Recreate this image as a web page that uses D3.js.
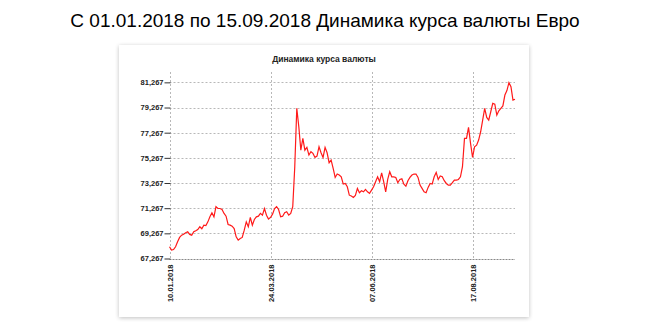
<!DOCTYPE html>
<html><head><meta charset="utf-8">
<script src="https://cdn.jsdelivr.net/npm/d3@7"></script>
<style>body{margin:0;background:#fff;} svg{display:block;}</style>
</head><body>
<svg id="c" width="650" height="325"></svg>
<script>
const pageTitle = "С 01.01.2018 по 15.09.2018 Динамика курса валюты Евро";
const chartTitle = "Динамика курса валюты";
const xTickIndex = [0, 50, 100, 150];
const xTickLabels = ["10.01.2018", "24.03.2018", "07.06.2018", "17.08.2018"];
const yTicks = [67.267, 69.267, 71.267, 73.267, 75.267, 77.267, 79.267, 81.267];
const rates = [
68.20,67.93,67.98,68.20,68.59,68.94,69.12,69.20,69.31,69.39,
69.18,69.12,69.39,69.47,69.57,69.79,69.63,69.92,69.89,70.18,
70.58,70.90,70.58,71.38,71.24,71.24,71.16,70.85,70.63,69.97,
69.92,69.84,69.65,68.99,68.73,68.86,68.94,69.52,70.18,69.79,
70.53,69.92,70.37,70.58,70.63,70.85,70.71,71.24,70.71,70.40,
70.53,70.79,71.24,71.38,71.16,70.58,70.63,70.90,70.98,70.71,
70.85,71.38,74.56,79.20,77.74,75.88,76.81,75.88,76.10,75.49,
75.75,75.62,75.30,75.41,76.15,75.67,75.30,76.10,75.67,74.88,
75.09,74.43,73.71,73.98,73.90,73.76,73.18,73.23,72.97,72.30,
72.23,72.12,72.28,72.84,72.49,72.65,72.57,72.76,72.57,72.44,
72.70,72.97,73.37,73.76,73.37,74.08,73.37,72.57,73.55,74.16,
73.76,73.76,73.71,73.29,73.55,73.60,73.18,73.02,73.45,73.71,
73.90,73.98,73.98,73.71,73.10,72.84,72.57,72.49,72.92,73.23,
73.18,73.76,74.11,73.55,73.82,73.76,73.45,73.23,73.10,73.10,
73.29,73.50,73.50,73.55,73.76,74.56,76.81,76.81,77.69,76.42,
75.30,76.15,76.28,76.68,77.34,78.27,79.20,78.48,78.27,78.93,
79.60,79.54,78.67,79.01,79.20,79.39,80.26,80.61,81.24,80.92,
79.86,79.92
];

const svg = d3.select("#c");
const defs = svg.append("defs");
const f = defs.append("filter").attr("id","sh").attr("x","-5%").attr("y","-5%").attr("width","110%").attr("height","110%");
f.append("feGaussianBlur").attr("in","SourceAlpha").attr("stdDeviation",2);
f.append("feOffset").attr("dx",0).attr("dy",1).attr("result","b");
f.append("feComponentTransfer").append("feFuncA").attr("type","linear").attr("slope",0.25);
const fm = f.append("feMerge"); fm.append("feMergeNode"); fm.append("feMergeNode").attr("in","SourceGraphic");

svg.append("text").attr("x",325).attr("y",27).attr("text-anchor","middle")
  .style("font-family","Liberation Sans, Arial, sans-serif").style("font-size","19px").attr("fill","#000")
  .text(pageTitle);

svg.append("rect").attr("x",119).attr("y",45).attr("width",410).attr("height",272)
  .attr("fill","#fff").attr("filter","url(#sh)");

svg.append("text").attr("x",324).attr("y",62).attr("text-anchor","middle")
  .style("font-family","Liberation Sans, Arial, sans-serif").style("font-size","8.5px").style("font-weight","bold")
  .attr("fill","#222").text(chartTitle);

const pL = 169.5, pR = 515, pT = 72, pB = 258.5;
const x = d3.scaleLinear().domain([0, rates.length - 1]).range([pL, pR]);
const y = d3.scaleLinear().domain([67.267, 82.09]).range([pB, pT]);

const g = svg.append("g");
g.selectAll(".hg").data(yTicks.slice(1)).join("line")
  .attr("x1",pL).attr("x2",pR).attr("y1",d=>Math.round(y(d))+0.5).attr("y2",d=>Math.round(y(d))+0.5)
  .attr("stroke","#b8b8b8").attr("stroke-dasharray","2,2").attr("stroke-width",1);
g.selectAll(".vg").data(xTickIndex).join("line")
  .attr("x1",d=>Math.round(x(d))+0.5).attr("x2",d=>Math.round(x(d))+0.5).attr("y1",pT).attr("y2",pB)
  .attr("stroke","#b8b8b8").attr("stroke-dasharray","2,2").attr("stroke-width",1);
g.append("line").attr("x1",pL).attr("x2",pR).attr("y1",Math.round(pB)+0.5).attr("y2",Math.round(pB)+0.5)
  .attr("stroke","#888").attr("stroke-dasharray","2,1").attr("stroke-width",1);

const yAxis = d3.axisLeft(y).tickValues(yTicks).tickSize(6).tickPadding(1)
  .tickFormat(d => d3.format(".3f")(d).replace(".", ","));
const ya = svg.append("g").attr("transform",`translate(${Math.round(pL)+0.5},0)`).call(yAxis);
ya.select(".domain").remove();
ya.selectAll(".tick line").attr("stroke","#333");
ya.selectAll("text").style("font-family","Liberation Sans, Arial, sans-serif").style("font-size","7.5px")
  .style("font-weight","bold").attr("fill","#222");

const xAxis = d3.axisBottom(x).tickValues(xTickIndex).tickSize(0)
  .tickFormat((d,i) => xTickLabels[i]);
const xa = svg.append("g").attr("transform",`translate(0.5,${Math.round(pB)+0.5})`).call(xAxis);
xa.select(".domain").remove();
xa.selectAll("text").attr("transform","rotate(-90)").attr("text-anchor","end")
  .attr("x",-5).attr("y",0).attr("dy","0.35em")
  .style("font-family","Liberation Sans, Arial, sans-serif").style("font-size","7.5px")
  .style("font-weight","bold").attr("fill","#222");

svg.append("path").datum(rates)
  .attr("d", d3.line().x((d,i)=>x(i)).y(d=>y(d)))
  .attr("fill","none").attr("stroke","#ff1a1a").attr("stroke-width",1.2);
</script>
</body></html>
